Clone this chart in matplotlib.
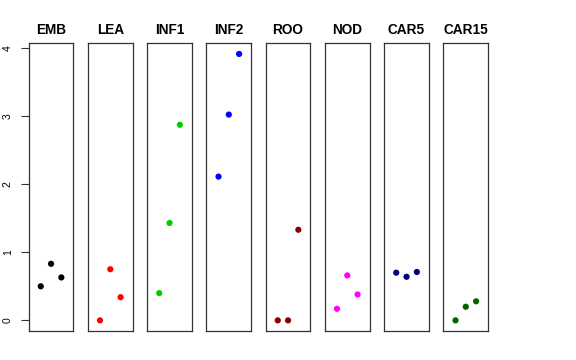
import matplotlib
matplotlib.use("Agg")
import matplotlib.pyplot as plt

plt.rcParams['font.family'] = ['Liberation Sans', 'DejaVu Sans']

categories = ["EMB", "LEA", "INF1", "INF2", "ROO", "NOD", "CAR5", "CAR15"]
values = {
    "EMB":   [0.50, 0.83, 0.63],
    "LEA":   [0.00, 0.75, 0.34],
    "INF1":  [0.40, 1.43, 2.87],
    "INF2":  [2.11, 3.02, 3.91],
    "ROO":   [0.00, 0.00, 1.33],
    "NOD":   [0.17, 0.66, 0.38],
    "CAR5":  [0.70, 0.64, 0.71],
    "CAR15": [0.00, 0.20, 0.28],
}
colors = ["#000000", "#FF0000", "#00CD00", "#0000FF", "#8B0000", "#FF00FF", "#000080", "#006400"]
yticks = [0, 1, 2, 3, 4]

W, H = 576, 360
fig = plt.figure(figsize=(W / 100, H / 100), dpi=100)

left0 = 28.7
step = 59.25
pw = 44.7
bottom = 29.0
ph = 287.7
ymin, ymax = -0.156, 4.066

for i, cat in enumerate(categories):
    ax = fig.add_axes([(left0 + i * step) / W, bottom / H, pw / W, ph / H])
    vals = values[cat]
    xs = list(range(1, len(vals) + 1))
    ax.scatter(xs, vals, s=20, color=colors[i], edgecolors='none', zorder=3)
    ax.set_xlim(-0.17, 4.17)
    ax.set_ylim(ymin, ymax)
    ax.set_xticks([])
    for sp in ax.spines.values():
        sp.set_color('#333333')
        sp.set_linewidth(0.9)
    ax.set_title(cat, fontsize=9.8, fontweight='bold', pad=6.5)
    if i == 0:
        ax.set_yticks(yticks)
        ax.set_yticklabels([str(t) for t in yticks], rotation=90, va='center', fontsize=7.5)
        ax.tick_params(axis='y', length=5.5, width=0.8, color='#333333', pad=6)
    else:
        ax.set_yticks([])

fig.savefig("out.png", dpi=100, facecolor='white')
